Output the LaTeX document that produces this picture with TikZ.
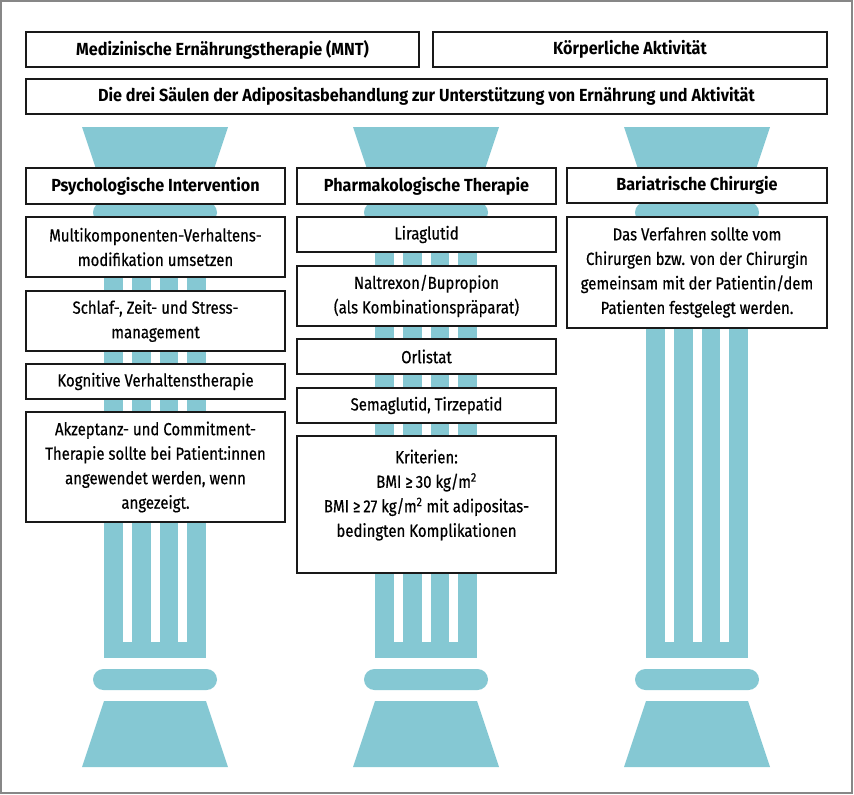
\documentclass[tikz,border=0pt]{standalone}
\usepackage{fontspec}
\setmainfont{Fira Sans}[FakeStretch=0.855, UprightFeatures={FakeBold=0.5}]
\newfontfamily\headfont{Fira Sans}[FakeStretch=0.925]
\definecolor{pillar}{RGB}{133,200,211}
\definecolor{framegray}{RGB}{135,135,135}
\tikzset{
  boxbase/.style={draw=black!90, line width=1.1pt, fill=white, inner sep=0pt, align=center,
    minimum width=259pt, font=\fontsize{17.5}{24.5}\selectfont},
  headbox/.style={boxbase, font=\headfont\bfseries\fontsize{17.5}{24.5}\selectfont},
  plainbox/.style={boxbase},
  pillarfill/.style={fill=pillar, draw=none},
  flute/.style={fill=white, draw=none}
}
\begin{document}
\begin{tikzpicture}[x=1pt, y=-1pt]
\useasboundingbox (0,0) rectangle (854,795);
\fill[white] (0,0) rectangle (854,795);
\draw[framegray, line width=1.6pt] (1,1) rectangle (852,793);

% pillars
\foreach \c in {155,426,697} {
  \fill[pillarfill] (\c-73,127) -- (\c+73,127) -- (\c+51,193) -- (\c-51,193) -- cycle;
  \fill[pillarfill, rounded corners=10.5pt] (\c-62,202) rectangle (\c+62,223);
  \fill[pillarfill] (\c-51,233) rectangle (\c+51,658);
  \fill[flute] (\c-32,250) rectangle (\c-23,642);
  \fill[flute] (\c-4.5,250) rectangle (\c+4.5,642);
  \fill[flute] (\c+23,250) rectangle (\c+32,642);
  \fill[pillarfill, rounded corners=10.5pt] (\c-62,669) rectangle (\c+62,690);
  \fill[pillarfill] (\c-51,701) -- (\c+51,701) -- (\c+73,767) -- (\c-73,767) -- cycle;
}

% top boxes
\node[headbox, minimum width=393pt, minimum height=35pt] (mnt) at (222.5,49.5) {Medizinische Ernährungstherapie (MNT)};
\node[headbox, minimum width=394pt, minimum height=35pt] (koerper) at (630,49.5) {Körperliche Aktivität};
\node[headbox, minimum width=801pt, minimum height=35pt] (saeulen) at (426.5,96.5) {Die drei Säulen der Adipositasbehandlung zur Unterstützung von Ernährung und Aktivität};

% left column
\node[headbox, minimum height=36pt] (psych) at (155.5,186) {Psychologische Intervention};
\node[plainbox, minimum height=60pt] (multi) at (155.5,247) {Multikomponenten-Verhaltens-\\modifikation umsetzen};
\node[plainbox, minimum height=60pt] (schlaf) at (155.5,321) {Schlaf-, Zeit- und Stress-\\management};
\node[plainbox, minimum height=35pt] (kogn) at (155.5,381.5) {Kognitive Verhaltenstherapie};
\node[plainbox, minimum height=110pt] (akzept) at (155.5,467) {Akzeptanz- und Commitment-\\Therapie sollte bei Patient:innen\\angewendet werden, wenn\\angezeigt.};

% middle column
\node[headbox, minimum height=36pt] (pharma) at (426.5,186) {Pharmakologische Therapie};
\node[plainbox, minimum height=35pt] (lira) at (426.5,234.5) {Liraglutid};
\node[plainbox, minimum height=60pt] (naltr) at (426.5,296) {Naltrexon/Bupropion\\(als Kombinationspräparat)};
\node[plainbox, minimum height=35pt] (orli) at (426.5,356.5) {Orlistat};
\node[plainbox, minimum height=35pt] (sema) at (426.5,405.5) {Semaglutid, Tirzepatid};
\node[plainbox, minimum height=137pt] (krit) at (426.5,504.5) {};
\node[anchor=north, inner sep=0pt, align=center, font=\fontsize{17.5}{24.5}\selectfont, yshift=-14pt] (krittext) at (krit.north)
  {Kriterien:\\BMI ≥\,30 kg/m\textsuperscript{2}\\BMI ≥\,27 kg/m\textsuperscript{2} mit adipositas-\\bedingten Komplikationen};

% right column
\node[headbox, minimum width=260pt, minimum height=35pt] (bari) at (697,185.5) {Bariatrische Chirurgie};
\node[plainbox, minimum width=260pt, minimum height=111pt] (verf) at (697,272.5) {Das Verfahren sollte vom\\Chirurgen bzw. von der Chirurgin\\gemeinsam mit der Patientin/dem\\Patienten festgelegt werden.};
\end{tikzpicture}
\end{document}
